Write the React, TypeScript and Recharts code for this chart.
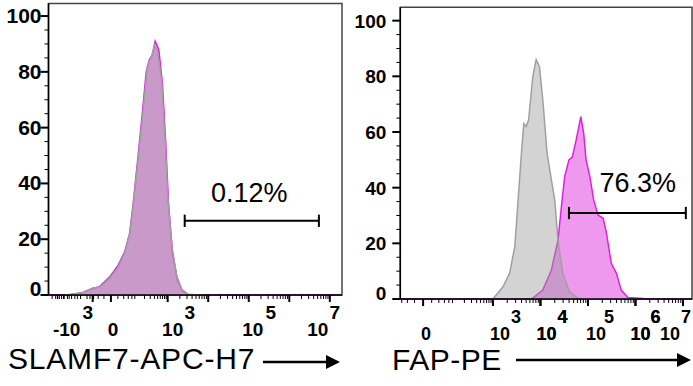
import React from 'react';
import { ComposedChart, Area, XAxis, YAxis, ReferenceArea, ReferenceLine, ReferenceDot } from 'recharts';

const FONT = '"Liberation Sans", Arial, Helvetica, sans-serif';

// x values are in display units of the biexponential axis (10^k sits at k)
// SLAMF7 panel
const slamfSampleX = [0.06, 0.55, 0.9, 1.15, 1.32, 1.57, 1.77, 1.94, 2.06, 2.14, 2.26, 2.38, 2.47, 2.55, 2.62, 2.69, 2.78, 2.87, 2.95, 3.02, 3.12, 3.24, 3.36, 3.5, 3.8, 7.3];
const slamfSampleY = [0, 0, 0.9, 2.3, 3.0, 6.5, 10.5, 15.5, 22, 31.6, 48.5, 66, 80, 84.5, 86, 91, 88, 76, 55, 33, 15, 5.5, 1.5, 0.2, 0, 0];
const slamfControlX = [0.5, 0.9, 1.15, 1.32, 1.57, 1.77, 1.94, 2.06, 2.14, 2.26, 2.38, 2.5, 2.6, 2.68, 2.75, 2.85, 2.93, 3.0, 3.1, 3.22, 3.35, 3.5, 3.8];
const slamfControlY = [0, 0.8, 2.5, 2.8, 6, 9.7, 15, 22, 31, 47, 64, 82, 85.5, 89.5, 87, 77, 57, 36, 18, 7, 2, 0.3, 0];

// FAP panel
const fapSampleX = [1.05, 3.81, 4.05, 4.23, 4.37, 4.44, 4.51, 4.6, 4.67, 4.75, 4.85, 4.91, 4.96, 5.04, 5.12, 5.21, 5.32, 5.39, 5.49, 5.6, 5.7, 5.84, 6.16, 6.22, 7.19];
const fapSampleY = [0, 0, 3.2, 10.4, 21.2, 33, 44, 50, 51, 57, 65.5, 59.6, 50, 44, 35.6, 30.2, 29, 23.7, 12.8, 9.2, 3.2, 0.5, 0.2, 0, 0];
const fapControlX = [3.0, 3.21, 3.35, 3.46, 3.53, 3.6, 3.65, 3.7, 3.75, 3.84, 3.91, 3.98, 4.05, 4.14, 4.23, 4.3, 4.37, 4.47, 4.61, 4.79, 4.9];
const fapControlY = [0, 4.4, 9.2, 18.8, 35.6, 52.4, 63, 62, 64.3, 80, 86, 83.5, 71.5, 52.3, 42.8, 35.6, 21, 9.2, 2.6, 0.3, 0];

const yMajor = [0, 20, 40, 60, 80, 100];

// gates
const slamfGate = { from: 3.42, to: 6.73, y: 26.6, label: '0.12%', lx: 5.01, ly: 36.6 };
const fapGate = { from: 4.6, to: 7.06, y: 30.9, label: '76.3%', lx: 6.05, ly: 42 };

// tick labels: u = axis position, base/sup text, bx/sx = pixel offsets of base and superscript
const slamfLabels = [
  { u: 1.15, base: '-10', sup: '3', bx: -26, sx: -5 },
  { u: 1.6, base: '0', sup: '', bx: 2, sx: 0 },
  { u: 3, base: '10', sup: '3', bx: 5, sx: 22 },
  { u: 5, base: '10', sup: '5', bx: 4, sx: 22 },
  { u: 7, base: '10', sup: '7', bx: -12, sx: 5 },
];
const fapLabels = [
  { u: 1.53, base: '0', sup: '', bx: 3, sx: 0 },
  { u: 3, base: '10', sup: '3', bx: 7, sx: 23 },
  { u: 4, base: '10', sup: '4', bx: 6, sx: 22 },
  { u: 5, base: '10', sup: '5', bx: 8, sx: 21 },
  { u: 6, base: '10', sup: '6', bx: 5, sx: 20 },
  { u: 7, base: '10', sup: '7', bx: -13, sx: 3 },
];

function merge(sx: number[], sy: number[], cx: number[], cy: number[]) {
  const rows: any[] = [];
  sx.forEach((u, i) => rows.push({ u, sample: sy[i] }));
  cx.forEach((u, i) => rows.push({ u, control: cy[i] }));
  return rows.sort((a, b) => a.u - b.u);
}

function minorTicks(zero: number, min: number) {
  const out: number[] = [];
  for (let k = 3; k < 7; k++) for (let m = 2; m <= 9; m++) out.push(k + Math.log10(m));
  const W = 40;
  const pos = (v: number) => zero + ((3 - zero) * Math.asinh(v / W)) / Math.asinh(1000 / W);
  [20, 40, 60, 80, 100, 200, 300, 400, 500, 600, 700, 800, 900].forEach((v) => {
    out.push(pos(v));
    if (pos(-v) > min) out.push(pos(-v));
  });
  for (let p = zero - 0.75; p > min + 0.05; p -= 0.14) out.push(p);
  return out;
}

function makeXTick(labels: any[], majors: number[], fs: number) {
  return (props: any) => {
    const { x, y, payload } = props;
    const v = payload.value;
    const major = majors.some((m) => Math.abs(m - v) < 1e-6);
    const lab = labels.find((l) => Math.abs(l.u - v) < 1e-6);
    return (
      <g>
        <line x1={x} x2={x} y1={y} y2={y + (major ? 7 : 4)} stroke="#000" strokeWidth={major ? 2 : 1} />
        {lab && (
          <text x={x + lab.bx} y={y + 41} textAnchor="middle" fontSize={fs} fontWeight="bold" fontFamily={FONT} fill="#000">
            {lab.base}
          </text>
        )}
        {lab && lab.sup && (
          <text x={x + lab.sx} y={y + 24} textAnchor="middle" fontSize={fs} fontWeight="bold" fontFamily={FONT} fill="#000">
            {lab.sup}
          </text>
        )}
      </g>
    );
  };
}

function makeYTick(gap: number, fs: number) {
  return (props: any) => {
    const { x, y, payload } = props;
    const v = payload.value;
    const major = yMajor.includes(v);
    return (
      <g>
        <line x1={x - (major ? 8 : 4)} x2={x} y1={y} y2={y} stroke="#000" strokeWidth={major ? 2 : 1} />
        {major && (
          <text x={x - gap} y={v === 0 ? y + 1 : y + 7} textAnchor="end" fontSize={fs} fontWeight="bold" fontFamily={FONT} fill="#000">
            {v}
          </text>
        )}
      </g>
    );
  };
}

function Histogram(p: {
  data: any[];
  xDomain: [number, number];
  yMax: number;
  zero: number;
  labels: any[];
  gate: any;
  width: number;
  height: number;
  margin: any;
  yWidth: number;
  yGap: number;
  yFont: number;
  xFont: number;
}) {
  const majors = [...p.labels.map((l) => l.u), 4, 6];
  const ticks = [...majors, ...minorTicks(p.zero, p.xDomain[0])].filter((t) => t >= p.xDomain[0] && t <= p.xDomain[1]);
  const yTicks = Array.from({ length: 21 }, (_, i) => i * 5);
  const g = p.gate;
  return (
    <ComposedChart width={p.width} height={p.height} data={p.data} margin={p.margin}>
      <ReferenceArea x1={p.xDomain[0]} x2={p.xDomain[1]} y1={0} y2={p.yMax} fill="none" stroke="#444" strokeWidth={1.5} />
      <XAxis
        type="number"
        dataKey="u"
        domain={p.xDomain}
        allowDataOverflow
        ticks={ticks}
        interval={0}
        height={50}
        tickSize={0}
        tickMargin={0}
        tickLine={false}
        axisLine={{ stroke: '#000', strokeWidth: 1.5 }}
        tick={makeXTick(p.labels, majors, p.xFont)}
      />
      <YAxis
        type="number"
        domain={[0, p.yMax]}
        allowDataOverflow
        ticks={yTicks}
        interval={0}
        width={p.yWidth}
        tickSize={0}
        tickMargin={0}
        tickLine={false}
        axisLine={{ stroke: '#000', strokeWidth: 1.5 }}
        tick={makeYTick(p.yGap, p.yFont)}
      />
      <Area
        type="linear"
        dataKey="sample"
        connectNulls
        stroke="#dd22dd"
        strokeWidth={1.5}
        fill="#ee99ee"
        fillOpacity={1}
        dot={false}
        activeDot={false}
        isAnimationActive={false}
      />
      <Area
        type="linear"
        dataKey="control"
        connectNulls
        stroke="#a0a0a0"
        strokeWidth={1.5}
        fill="#9b9b9b"
        fillOpacity={0.44}
        dot={false}
        activeDot={false}
        isAnimationActive={false}
      />
      <ReferenceLine segment={[{ x: g.from, y: g.y }, { x: g.to, y: g.y }]} stroke="#000" strokeWidth={2} />
      <ReferenceLine segment={[{ x: g.from, y: g.y - 2.2 }, { x: g.from, y: g.y + 2.2 }]} stroke="#000" strokeWidth={2} />
      <ReferenceLine segment={[{ x: g.to, y: g.y - 2.2 }, { x: g.to, y: g.y + 2.2 }]} stroke="#000" strokeWidth={2} />
      <ReferenceDot
        x={g.lx}
        y={g.ly}
        r={0}
        fill="none"
        stroke="none"
        label={{ value: g.label, position: 'center', fontSize: 27, fill: '#000', fontFamily: FONT }}
      />
    </ComposedChart>
  );
}

export default function App() {
  const slamfData = merge(slamfSampleX, slamfSampleY, slamfControlX, slamfControlY);
  const fapData = merge(fapSampleX, fapSampleY, fapControlX, fapControlY);
  return (
    <div style={{ position: 'absolute', left: 0, top: 0, width: 693, height: 386, background: '#fff', fontFamily: FONT }}>
      <div style={{ position: 'absolute', left: 0, top: 0 }}>
        <Histogram
          data={slamfData}
          xDomain={[0.06, 7.3]}
          yMax={104.5}
          zero={1.6}
          labels={slamfLabels}
          gate={slamfGate}
          width={346}
          height={345}
          margin={{ top: 3.5, right: 4, bottom: 0, left: 0 }}
          yWidth={48.5}
          yGap={7}
          yFont={21}
          xFont={19}
        />
      </div>
      <div style={{ position: 'absolute', left: 343, top: 0 }}>
        <Histogram
          data={fapData}
          xDomain={[1.05, 7.19]}
          yMax={104.8}
          zero={1.53}
          labels={fapLabels}
          gate={fapGate}
          width={350}
          height={349}
          margin={{ top: 7.3, right: 1, bottom: 0, left: 0 }}
          yWidth={57.3}
          yGap={14}
          yFont={19}
          xFont={18}
        />
      </div>
      <svg width={693} height={386} style={{ position: 'absolute', left: 0, top: 0, pointerEvents: 'none' }}>
        <text x={8} y={369} fontSize={30} letterSpacing={0.8} fontFamily={FONT} fill="#000">
          SLAMF7-APC-H7
        </text>
        <line x1={263} x2={328} y1={362} y2={362} stroke="#000" strokeWidth={2.5} />
        <polygon points="326,355 340,362 326,369" fill="#000" />
        <text x={392} y={370} fontSize={30} letterSpacing={0.5} fontFamily={FONT} fill="#000">
          FAP-PE
        </text>
        <line x1={516} x2={679} y1={360} y2={360} stroke="#000" strokeWidth={2.5} />
        <polygon points="677,353 691,360 677,367" fill="#000" />
      </svg>
    </div>
  );
}
